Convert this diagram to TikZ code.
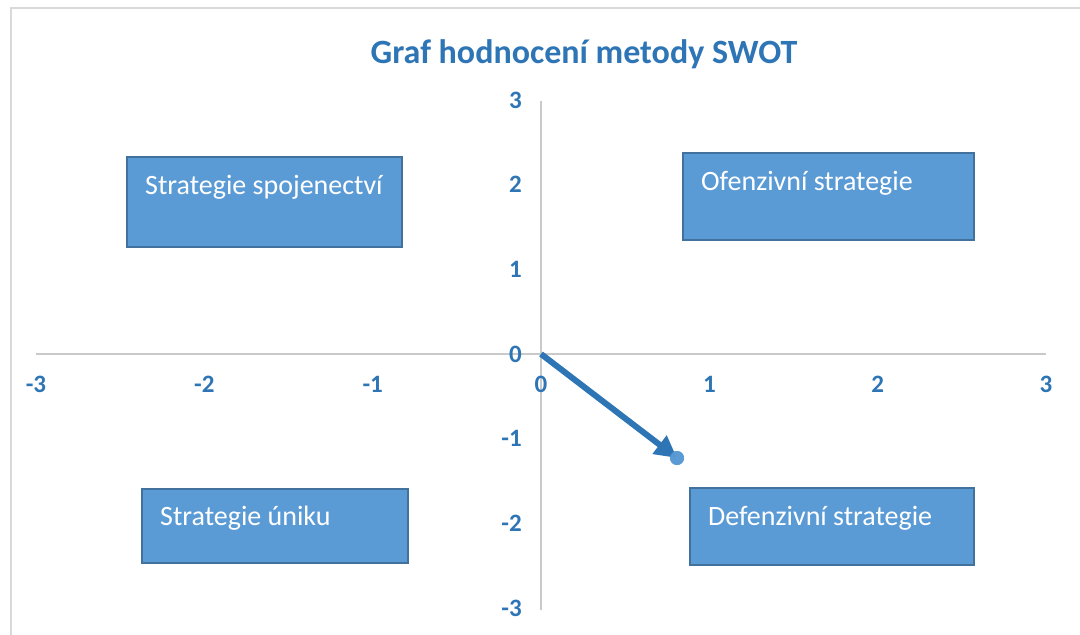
\documentclass[tikz,border=0pt]{standalone}
\usepackage{fontspec}
\setmainfont{Carlito}
\usetikzlibrary{arrows.meta}
\definecolor{chartblue}{HTML}{2E75B6}
\definecolor{boxfill}{HTML}{5B9BD5}
\definecolor{boxline}{HTML}{41719C}
\definecolor{axisgray}{HTML}{C9C9C9}
\definecolor{framegray}{HTML}{D9D9D9}
\tikzset{
  axisline/.style={draw=axisgray, line width=1.6pt},
  frameline/.style={draw=framegray, line width=1.5pt},
  ticklabel/.style={font=\fontsize{25}{25}\selectfont\bfseries, text=chartblue, inner sep=0pt},
  quadbox/.style={draw=boxline, fill=boxfill, line width=2pt, anchor=north west, inner sep=0pt},
  quadtext/.style={font=\fontsize{28}{28}\selectfont, text=white, anchor=base west, inner sep=0pt},
  vector/.style={draw=chartblue, line width=6pt, -{Triangle[length=22pt,width=22pt]}},
  marker/.style={circle, fill=boxfill, minimum size=14pt, inner sep=0pt}
}
\begin{document}
\begin{tikzpicture}[x=1pt, y=-1pt]
\useasboundingbox (0,0) rectangle (1080,635);
\fill[white] (0,0) rectangle (1080,635);
% chart area frame
\draw[frameline] (11,635) -- (11,8) -- (1080,8);
% title
\node[font=\fontsize{34}{34}\selectfont\bfseries, text=chartblue, anchor=base] (title) at (584,63) {Graf hodnocení metody SWOT};
% axes
\coordinate (xl) at (36,354);
\coordinate (xr) at (1046,354);
\coordinate (yt) at (541,101);
\coordinate (yb) at (541,610);
\draw[axisline] (xl) -- (xr);
\draw[axisline] (yt) -- (yb);
% x tick labels
\foreach \v in {-3,...,3}{
  \node[ticklabel] (xt\v) at ({541+168.33*\v},384) {\v};
}
% y tick labels
\foreach \v in {-3,...,3}{
  \node[ticklabel, anchor=east] (yt\v) at (522,{354-84.67*\v}) {\v};
}
% quadrant boxes
\node[quadbox, minimum width=275pt, minimum height=90pt] (spoj) at (126,156) {};
\node[quadtext] (spojt) at (145,194) {Strategie spojenectví};
\node[quadbox, minimum width=291pt, minimum height=87pt] (ofen) at (682,152) {};
\node[quadtext] (ofent) at (701,190) {Ofenzivní strategie};
\node[quadbox, minimum width=266pt, minimum height=74pt] (unik) at (141,488) {};
\node[quadtext] (unikt) at (160,525) {Strategie úniku};
\node[quadbox, minimum width=284pt, minimum height=77pt] (defe) at (689,487) {};
\node[quadtext] (defet) at (708,525) {Defenzivní strategie};
% evaluation vector
\coordinate (origin) at (541,354);
\node[marker] (pt) at (677,458) {};
\draw[vector] (origin) -- (pt.center);
\node[marker, opacity=0.9] at (pt.center) {};
\end{tikzpicture}
\end{document}
